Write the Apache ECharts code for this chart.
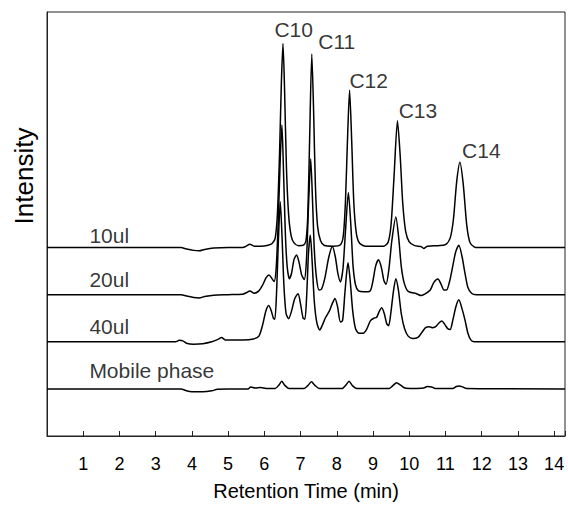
<!DOCTYPE html>
<html><head><meta charset="utf-8">
<script src="https://cdn.jsdelivr.net/npm/echarts@6/dist/echarts.min.js"></script>
<style>html,body{margin:0;padding:0;background:#fff}#c{width:568px;height:506px}</style>
</head><body><div id="c"></div>
<script>
// ---- data (retention time in min, relative intensity above each trace's own baseline) ----
const traceNames = ['10ul', '20ul', '40ul', 'Mobile phase'];
const traceOffsets = [4, 3, 2, 1];

const trace10ul = [[0,0],[3.7,0],[3.85,-0.03],[4.05,-0.06],[4.2,-0.07],[4.35,-0.04],[4.6,-0.01],[5.0,0],[5.4,0],[5.5,0.03],[5.6,0.07],[5.72,0.03],[5.9,0.03],[6.1,0.05],[6.22,0.09],[6.30,0.2],[6.36,0.7],[6.42,2.0],[6.47,3.5],[6.515,4.33],[6.56,3.3],[6.61,1.7],[6.67,0.7],[6.74,0.25],[6.82,0.1],[6.95,0.04],[7.08,0.05],[7.15,0.15],[7.20,0.7],[7.25,2.3],[7.31,4.11],[7.36,2.9],[7.41,1.3],[7.47,0.45],[7.55,0.15],[7.65,0.05],[7.9,0.03],[8.1,0.06],[8.18,0.25],[8.24,1.0],[8.30,2.4],[8.353,3.34],[8.41,2.3],[8.47,0.95],[8.54,0.3],[8.63,0.09],[8.8,0.03],[9.3,0.03],[9.42,0.12],[9.50,0.5],[9.58,1.5],[9.675,2.69],[9.75,1.95],[9.82,0.95],[9.9,0.35],[10.0,0.12],[10.15,0.04],[10.33,0.02],[10.4,-0.02],[10.5,0.03],[10.8,0.04],[11.0,0.06],[11.13,0.2],[11.22,0.6],[11.31,1.4],[11.40,1.81],[11.49,1.35],[11.59,0.46],[11.68,0.1],[11.8,0.01],[11.9,0],[14.3,0]];

const trace20ul = [[0,0],[3.7,0],[3.85,-0.03],[4.05,-0.06],[4.2,-0.07],[4.35,-0.04],[4.6,-0.01],[5.0,0],[5.4,0.01],[5.5,0.04],[5.6,0.08],[5.72,0.03],[5.85,0.08],[5.95,0.2],[6.05,0.36],[6.13,0.42],[6.21,0.34],[6.27,0.28],[6.33,0.6],[6.39,1.7],[6.44,2.9],[6.485,3.6],[6.53,2.6],[6.58,1.3],[6.63,0.6],[6.69,0.34],[6.75,0.45],[6.82,0.75],[6.89,0.84],[6.96,0.68],[7.03,0.42],[7.10,0.32],[7.16,0.7],[7.22,1.9],[7.28,2.88],[7.33,2.0],[7.38,0.95],[7.44,0.35],[7.51,0.1],[7.58,0.12],[7.67,0.35],[7.78,0.8],[7.88,1.02],[7.96,0.8],[8.03,0.45],[8.10,0.27],[8.17,0.55],[8.24,1.35],[8.32,2.17],[8.39,1.45],[8.45,0.6],[8.52,0.2],[8.6,0.08],[8.75,0.06],[8.92,0.08],[9.0,0.3],[9.07,0.6],[9.15,0.74],[9.23,0.58],[9.3,0.3],[9.36,0.22],[9.44,0.55],[9.52,1.15],[9.63,1.65],[9.71,1.2],[9.78,0.6],[9.86,0.25],[9.97,0.07],[10.2,0.02],[10.33,-0.02],[10.45,0.02],[10.58,0.1],[10.68,0.26],[10.79,0.33],[10.88,0.22],[10.96,0.1],[11.03,0.1],[11.12,0.3],[11.2,0.6],[11.28,0.9],[11.37,1.05],[11.46,0.8],[11.54,0.45],[11.62,0.15],[11.72,0.03],[11.85,0],[14.3,0]];

const trace40ul = [[0,0],[3.55,0],[3.65,0.03],[3.75,0.02],[3.85,-0.03],[4.05,-0.05],[4.3,-0.04],[4.55,0.0],[4.72,0.05],[4.82,0.09],[4.92,0.04],[5.1,0.04],[5.4,0.04],[5.7,0.06],[5.85,0.12],[5.95,0.35],[6.04,0.65],[6.12,0.77],[6.19,0.66],[6.25,0.5],[6.29,0.48],[6.34,1.1],[6.39,2.2],[6.44,2.97],[6.49,2.2],[6.54,1.2],[6.6,0.6],[6.67,0.49],[6.75,0.65],[6.84,0.92],[6.93,1.02],[7.0,0.8],[7.07,0.5],[7.12,0.48],[7.17,1.0],[7.22,1.9],[7.27,2.26],[7.32,1.7],[7.38,0.85],[7.45,0.4],[7.53,0.25],[7.6,0.35],[7.68,0.5],[7.8,0.66],[7.88,0.82],[7.95,0.92],[8.02,0.75],[8.1,0.42],[8.16,0.45],[8.22,1.0],[8.27,1.45],[8.31,1.68],[8.37,1.3],[8.44,0.65],[8.52,0.27],[8.62,0.18],[8.72,0.18],[8.82,0.26],[8.93,0.45],[9.02,0.5],[9.1,0.52],[9.17,0.64],[9.24,0.72],[9.31,0.6],[9.38,0.38],[9.43,0.34],[9.49,0.6],[9.56,1.05],[9.63,1.34],[9.7,1.1],[9.78,0.6],[9.87,0.28],[9.97,0.12],[10.1,0.07],[10.25,0.1],[10.35,0.2],[10.45,0.3],[10.55,0.32],[10.65,0.3],[10.73,0.32],[10.82,0.4],[10.9,0.44],[10.98,0.37],[11.06,0.28],[11.13,0.26],[11.2,0.45],[11.29,0.75],[11.37,0.89],[11.45,0.72],[11.54,0.46],[11.62,0.18],[11.7,0.04],[11.8,0],[14.3,0]];

const traceMobile = [[0,0],[3.7,0],[3.85,-0.04],[4.0,-0.06],[4.3,-0.06],[4.55,-0.04],[4.7,-0.01],[5.0,0],[5.55,0],[5.62,0.04],[5.75,0.02],[5.9,0.03],[6.05,0.01],[6.3,0.01],[6.4,0.08],[6.48,0.16],[6.56,0.08],[6.68,0.01],[7.1,0.01],[7.2,0.07],[7.3,0.15],[7.4,0.07],[7.52,0.01],[8.15,0.01],[8.25,0.08],[8.34,0.16],[8.43,0.07],[8.55,0.01],[9.45,0.01],[9.55,0.07],[9.65,0.13],[9.76,0.08],[9.88,0.02],[10.1,0.01],[10.4,0.02],[10.5,0.05],[10.62,0.04],[10.72,0.01],[11.2,0.01],[11.3,0.05],[11.38,0.06],[11.48,0.04],[11.58,0.01],[14.3,0]];

const peakNames = ['C10', 'C11', 'C12', 'C13', 'C14'];
const xTickLabels = ['1','2','3','4','5','6','7','8','9','10','11','12','13','14'];
const yAxisTitle = 'Intensity';
const xAxisTitle = 'Retention Time (min)';

// ---- layout (label anchor positions in axis units) ----
const traceLabelPos = [[1.17, 4.26], [1.17, 3.33], [1.17, 2.32], [1.17, 1.39]];
const peakLabelPos = [[6.81, 8.62], [8.0, 8.37], [8.88, 7.55], [10.24, 6.91], [11.99, 6.05]];

const FONT = '"Liberation Sans", Arial, Helvetica, sans-serif';
const traces = [trace10ul, trace20ul, trace40ul, traceMobile];

const chart = echarts.init(document.getElementById('c'), null, {renderer: 'svg'});

const lineSeries = traces.map((tr, i) => ({
  type: 'line',
  name: traceNames[i],
  data: tr.map(p => [p[0], p[1] + traceOffsets[i]]),
  showSymbol: false,
  smooth: 0.25,
  lineStyle: {color: '#000', width: 1.5},
  z: 2,
  silent: true
}));

const labelData = traceNames.map((n, i) => ({value: traceLabelPos[i], name: n,
  label: {align: 'left'}}))
  .concat(peakNames.map((n, i) => ({value: peakLabelPos[i], name: n,
  label: {align: 'center'}})));

chart.setOption({
  animation: false,
  backgroundColor: '#fff',
  grid: {left: 47, right: 1, top: 12, bottom: 68, show: true, borderColor: '#222', borderWidth: 1},
  graphic: [{
    type: 'text', x: 24, y: 176, rotation: Math.PI / 2,
    style: {text: yAxisTitle, font: '26px ' + FONT, fill: '#000',
      textAlign: 'center', textVerticalAlign: 'middle'}
  }],
  xAxis: {
    type: 'value', min: 0, max: 14.3, interval: 1,
    name: xAxisTitle, nameLocation: 'middle', nameGap: 45,
    nameTextStyle: {fontFamily: FONT, fontSize: 20, color: '#000'},
    axisLine: {show: true, lineStyle: {color: '#222', width: 1}},
    axisTick: {show: true, inside: true, length: 5, lineStyle: {color: '#222'}},
    splitLine: {show: false},
    axisLabel: {
      margin: 19, fontFamily: FONT, fontSize: 18, color: '#000',
      formatter: v => (Number.isInteger(v) && v >= 1 && v <= 14) ? xTickLabels[v - 1] : ''
    }
  },
  yAxis: {
    type: 'value', min: 0, max: 9,
    axisLine: {show: true, lineStyle: {color: '#222', width: 1}},
    axisTick: {show: false}, axisLabel: {show: false}, splitLine: {show: false}
  },
  series: lineSeries.concat([{
    type: 'scatter', symbolSize: 0, silent: true, z: 5,
    data: labelData,
    label: {show: true, position: 'inside', verticalAlign: 'middle',
      formatter: p => p.name, fontFamily: FONT, fontSize: 21, color: '#000'}
  }])
});
</script></body></html>
